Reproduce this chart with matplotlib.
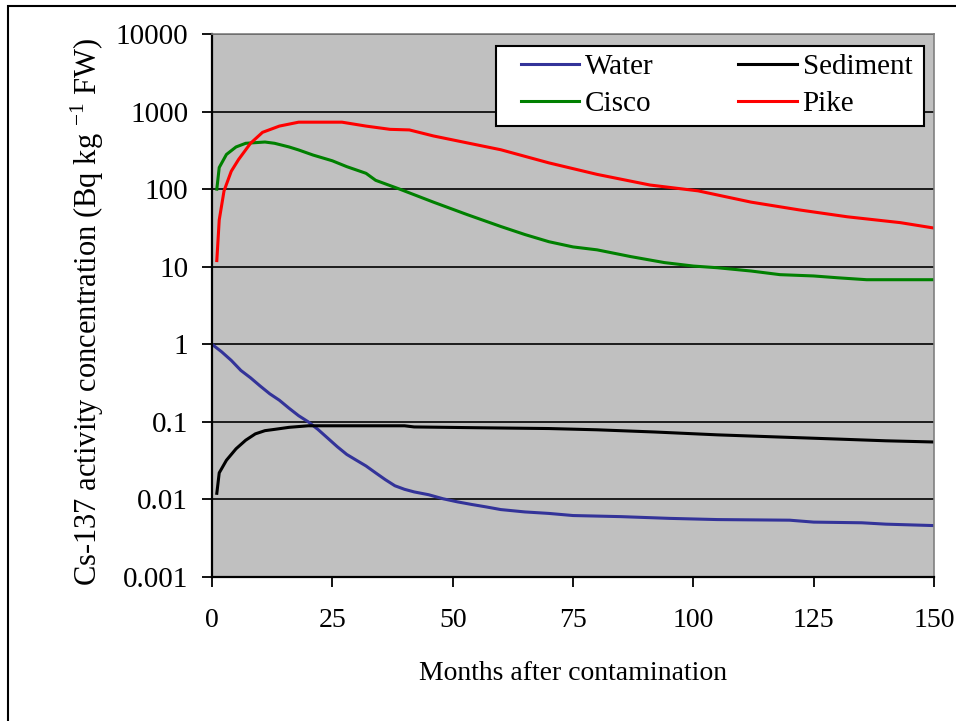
import matplotlib
matplotlib.use("Agg")
import matplotlib.pyplot as plt
from matplotlib.patches import Rectangle

plt.rcParams.update({
    "font.family": "Liberation Serif",
    "mathtext.fontset": "custom",
    "mathtext.rm": "Liberation Serif",
    "font.size": 20,
})

# months after contamination / activity (Bq kg-1 FW)
water_months = [0, 2, 4, 6, 8, 10, 12, 14, 16, 18, 20, 22, 24, 26, 28, 30, 32, 34, 36, 38,
                40, 42, 45, 48, 51, 54, 57, 60, 65, 70, 75, 85, 95, 105, 120, 125, 135, 140, 150]
water_vals = [1.0, 0.80, 0.62, 0.46, 0.37, 0.29, 0.23, 0.19, 0.15, 0.12, 0.10, 0.08, 0.062,
              0.048, 0.038, 0.032, 0.027, 0.022, 0.018, 0.015, 0.0135, 0.0125, 0.0115, 0.0102,
              0.0093, 0.0086, 0.0080, 0.0074, 0.0069, 0.0066, 0.0062, 0.0060, 0.0057, 0.0055,
              0.0054, 0.0051, 0.0050, 0.0048, 0.0046]

sed_months = [1, 1.5, 3, 5, 7, 9, 11, 13, 16, 20, 40, 42, 55, 70, 80, 92, 105, 117, 130, 140, 150]
sed_vals = [0.012, 0.022, 0.032, 0.045, 0.058, 0.070, 0.077, 0.080, 0.085, 0.089, 0.089,
            0.086, 0.084, 0.082, 0.079, 0.074, 0.068, 0.064, 0.060, 0.057, 0.055]

cisco_months = [1, 1.5, 3, 5, 7, 11, 13, 16, 18, 21, 25, 28, 32, 34, 39, 46, 53, 60, 65, 70,
                75, 80, 87, 94, 100, 105, 112, 118, 125, 130, 136, 150]
cisco_vals = [100, 190, 280, 350, 390, 405, 390, 350, 320, 275, 232, 195, 160, 130, 100, 68,
              47, 33, 26, 21, 18, 16.5, 13.5, 11.3, 10.2, 9.7, 8.8, 7.9, 7.6, 7.2, 6.8, 6.8]

pike_months = [1, 1.5, 2.5, 4, 5.5, 8, 10.5, 14, 18, 27, 32, 37, 41, 46, 53, 60, 70, 80, 91,
               101, 112, 122, 132, 143, 150]
pike_vals = [12, 40, 95, 170, 240, 390, 540, 650, 730, 730, 650, 590, 580, 485, 395, 322, 218,
             155, 113, 95, 68, 54, 44, 37, 31.5]

x_ticks = [0, 25, 50, 75, 100, 125, 150]
y_ticks = [0.001, 0.01, 0.1, 1, 10, 100, 1000, 10000]
y_ticklabels = ["0.001", "0.01", "0.1", "1", "10", "100", "1000", "10000"]

W, H = 956, 721
fig = plt.figure(figsize=(W / 100, H / 100), dpi=100)
ax = fig.add_axes([212 / W, 1 - 577 / H, 722 / W, 543 / H])
ax.set_facecolor("#c0c0c0")

ax.plot(water_months, water_vals, color="#333399", lw=2.2, label="Water")
ax.plot(sed_months, sed_vals, color="black", lw=2.2, label="Sediment")
ax.plot(cisco_months, cisco_vals, color="#008000", lw=2.2, label="Cisco")
ax.plot(pike_months, pike_vals, color="#ff0000", lw=2.2, label="Pike")

ax.set_yscale("log")
ax.set_xlim(0, 150)
ax.set_ylim(0.001, 10000)
ax.set_xticks(x_ticks)
ax.set_yticks(y_ticks)
ax.set_yticklabels(y_ticklabels)
ax.minorticks_off()
ax.yaxis.grid(True, color="black", lw=1.2)
ax.set_axisbelow(True)
ax.tick_params(direction="out", length=7.2, width=1.3, color="black")
ax.tick_params(axis="y", pad=10, labelsize=21)
ax.tick_params(axis="x", pad=15, labelsize=20)

for s in ["left", "bottom"]:
    ax.spines[s].set_color("black")
    ax.spines[s].set_linewidth(1.6)
for s in ["top", "right"]:
    ax.spines[s].set_color("#808080")
    ax.spines[s].set_linewidth(1.2)

# legend box drawn by hand so it sits where the original one is
ax.add_patch(Rectangle((496 / W, 1 - 126 / H), 428 / W, 80 / H,
                       transform=fig.transFigure, facecolor="white",
                       edgecolor="black", lw=1.5, zorder=4, clip_on=False))
h, l = ax.get_legend_handles_labels()
order = [0, 2, 1, 3]
leg = ax.legend([h[i] for i in order], [l[i] for i in order], ncol=2,
                loc="upper left", bbox_to_anchor=(521 / W, 1 - 54 / H),
                bbox_transform=fig.transFigure, borderaxespad=0, borderpad=0,
                frameon=False, fontsize=21, handlelength=2.0, handletextpad=0.2,
                columnspacing=2.9, labelspacing=0.36)
leg.set_zorder(5)

fig.text(87 / W, 1 - 312 / H, "Cs-137 activity concentration (Bq kg $^{-1}$ FW)",
         rotation=90, ha="center", va="center", fontsize=22)
fig.text(573 / W, 1 - 673 / H, "Months after contamination",
         ha="center", va="center", fontsize=20)

# chart frame: only left and top edges fall inside the picture
fig.patches.append(Rectangle((8 / W, -10 / H), 960 / W, 725 / H,
                             transform=fig.transFigure, fill=False,
                             edgecolor="black", lw=1.5))

fig.savefig("out.png", dpi=100)
